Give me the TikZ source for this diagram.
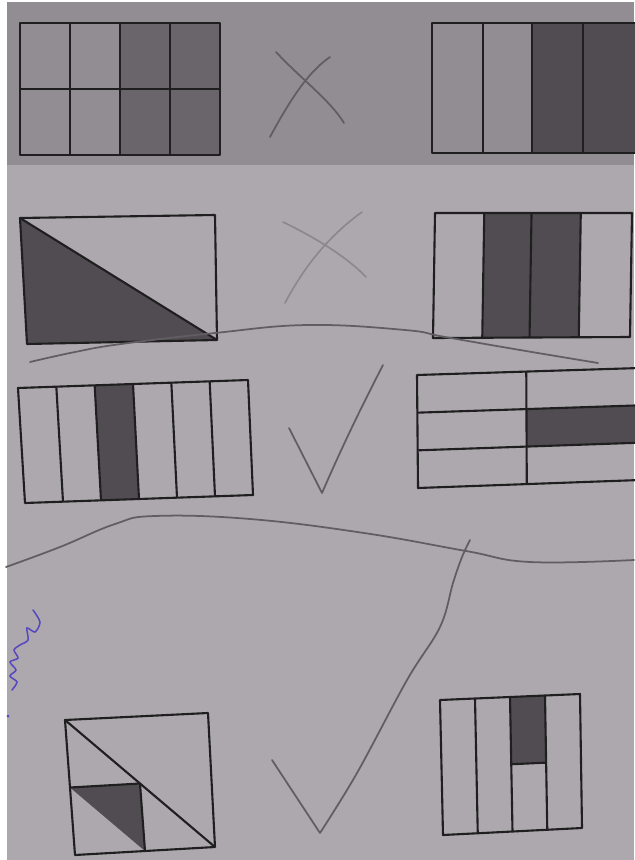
\documentclass[tikz,border=0pt]{standalone}
\usepackage{tikz}
\usetikzlibrary{calc}
\definecolor{paper}{RGB}{172,168,174}
\definecolor{paperdark}{RGB}{146,141,147}
\definecolor{midfill}{RGB}{106,101,107}
\definecolor{darkfill}{RGB}{80,76,81}
\definecolor{pencil}{RGB}{96,93,99}
\definecolor{pencilfaint}{RGB}{140,135,142}
\definecolor{ink}{RGB}{88,72,190}

\begin{document}
\begin{tikzpicture}[x=0.3mm, y=-0.3mm,
    box/.style={draw=black!88, line width=1.8pt, line join=round},
    pencilline/.style={draw=pencil, line width=1.5pt, line cap=round, line join=round},
    faintline/.style={draw=pencilfaint, line width=1.4pt, line cap=round}]
    \useasboundingbox (0,0) rectangle (634,860);

    % paper
    \fill[white] (0,0) rectangle (634,860);
    \fill[paper] (7,165) rectangle (634,860);
    \fill[paperdark] (7,2) rectangle (634,165);

    % row 1, left: 4x2 grid, right half shaded
    \coordinate (r1l-nw) at (20,23);  \coordinate (r1l-ne) at (220,23);
    \coordinate (r1l-se) at (220,155); \coordinate (r1l-sw) at (20,155);
    \fill[midfill] ($(r1l-nw)!0.5!(r1l-ne)$) rectangle (r1l-se);
    \foreach \t in {0.25,0.5,0.75}
        \draw[box] ($(r1l-nw)!\t!(r1l-ne)$) -- ($(r1l-sw)!\t!(r1l-se)$);
    \draw[box] ($(r1l-nw)!0.5!(r1l-sw)$) -- ($(r1l-ne)!0.5!(r1l-se)$);
    \draw[box] (r1l-nw) -- (r1l-ne) -- (r1l-se) -- (r1l-sw) -- cycle;

    % cross 1
    \draw[pencilline] (270,137) .. controls (290,100) and (308,72) .. (330,57);
    \draw[pencilline] (276,52) .. controls (300,78) and (330,100) .. (344,123);

    % row 1, right: 4 strips, two shaded
    \coordinate (r1r-nw) at (432,23);  \coordinate (r1r-ne) at (640,23);
    \coordinate (r1r-se) at (640,153); \coordinate (r1r-sw) at (432,153);
    \fill[darkfill] ($(r1r-nw)!0.48!(r1r-ne)$) rectangle (r1r-se);
    \foreach \t in {0.245,0.48,0.726}
        \draw[box] ($(r1r-nw)!\t!(r1r-ne)$) -- ($(r1r-sw)!\t!(r1r-se)$);
    \draw[box] (r1r-nw) -- (r1r-ne) -- (r1r-se) -- (r1r-sw) -- cycle;

    % row 2, left: half cut on the diagonal
    \coordinate (r2l-nw) at (20,218);  \coordinate (r2l-ne) at (215,215);
    \coordinate (r2l-se) at (217,340); \coordinate (r2l-sw) at (27,344);
    \fill[darkfill] (r2l-nw) -- (r2l-se) -- (r2l-sw) -- cycle;
    \draw[box] (r2l-nw) -- (r2l-se);
    \draw[box] (r2l-nw) -- (r2l-ne) -- (r2l-se) -- (r2l-sw) -- cycle;

    % cross 2 (faint)
    \draw[faintline] (283,222) .. controls (310,235) and (345,255) .. (366,277);
    \draw[faintline] (362,212) .. controls (330,235) and (305,265) .. (285,303);

    % row 2, right: 4 strips, middle two shaded
    \coordinate (r2r-nw) at (435,213); \coordinate (r2r-ne) at (632,213);
    \coordinate (r2r-se) at (630,337); \coordinate (r2r-sw) at (433,338);
    \fill[darkfill] ($(r2r-nw)!0.25!(r2r-ne)$) -- ($(r2r-nw)!0.74!(r2r-ne)$)
        -- ($(r2r-sw)!0.74!(r2r-se)$) -- ($(r2r-sw)!0.25!(r2r-se)$) -- cycle;
    \foreach \t in {0.25,0.49,0.74}
        \draw[box] ($(r2r-nw)!\t!(r2r-ne)$) -- ($(r2r-sw)!\t!(r2r-se)$);
    \draw[box] (r2r-nw) -- (r2r-ne) -- (r2r-se) -- (r2r-sw) -- cycle;

    % wavy line 1
    \draw[pencilline] plot[smooth, tension=0.7] coordinates
        {(30,362) (75,352) (121,344) (215,333) (308,325) (405,330) (445,337) (520,350) (598,363)};

    % row 3, left: 6 strips, one shaded
    \coordinate (r3l-nw) at (18,388);  \coordinate (r3l-ne) at (248,380);
    \coordinate (r3l-se) at (253,495); \coordinate (r3l-sw) at (25,503);
    \fill[darkfill] ($(r3l-nw)!2/6!(r3l-ne)$) -- ($(r3l-nw)!3/6!(r3l-ne)$)
        -- ($(r3l-sw)!3/6!(r3l-se)$) -- ($(r3l-sw)!2/6!(r3l-se)$) -- cycle;
    \foreach \i in {1,...,5}
        \draw[box] ($(r3l-nw)!\i/6!(r3l-ne)$) -- ($(r3l-sw)!\i/6!(r3l-se)$);
    \draw[box] (r3l-nw) -- (r3l-ne) -- (r3l-se) -- (r3l-sw) -- cycle;

    % tick 1
    \draw[pencilline] (289,428) -- (322,493) .. controls (345,440) and (365,400) .. (383,365);

    % row 3, right: 2x3 grid, one cell shaded
    \coordinate (r3r-nw) at (417,375); \coordinate (r3r-ne) at (640,368);
    \coordinate (r3r-se) at (640,480); \coordinate (r3r-sw) at (418,488);
    \fill[darkfill] ($($(r3r-nw)!1/3!(r3r-sw)$)!0.49!($(r3r-ne)!1/3!(r3r-se)$)$)
        -- ($(r3r-ne)!1/3!(r3r-se)$) -- ($(r3r-ne)!2/3!(r3r-se)$)
        -- ($($(r3r-nw)!2/3!(r3r-sw)$)!0.49!($(r3r-ne)!2/3!(r3r-se)$)$) -- cycle;
    \draw[box] ($(r3r-nw)!0.49!(r3r-ne)$) -- ($(r3r-sw)!0.49!(r3r-se)$);
    \foreach \t in {1/3,2/3}
        \draw[box] ($(r3r-nw)!\t!(r3r-sw)$) -- ($(r3r-ne)!\t!(r3r-se)$);
    \draw[box] (r3r-nw) -- (r3r-ne) -- (r3r-se) -- (r3r-sw) -- cycle;

    % wavy line 2
    \draw[pencilline] plot[smooth, tension=0.7] coordinates
        {(6,567) (60,547) (115,524) (155,516) (250,519) (364,533) (466,551) (530,562) (634,560)};

    % handwriting (blue)
    \draw[ink, line width=1.3pt, line cap=round] plot[smooth] coordinates
        {(33,610) (40,622) (35,632) (27,628) (28,640) (20,645) (14,650) (18,658)
         (10,662) (16,670) (10,676) (17,682) (12,690)};
    \fill[ink] (8,716) circle (1.5);

    % tick 2
    \draw[pencilline] (272,760) -- (320,833) plot[smooth, tension=0.6] coordinates
        {(320,833) (357,773) (407,680) (440,627) (453,583) (462,557) (470,540)};

    % row 4, left: square, diagonal, shaded small triangle
    \coordinate (r4l-nw) at (65,720);  \coordinate (r4l-ne) at (208,713);
    \coordinate (r4l-se) at (215,847); \coordinate (r4l-sw) at (75,855);
    \coordinate (r4l-w) at ($(r4l-nw)!0.5!(r4l-sw)$);
    \coordinate (r4l-c) at ($(r4l-nw)!0.5!(r4l-se)$);
    \coordinate (r4l-s) at ($(r4l-sw)!0.5!(r4l-se)$);
    \fill[darkfill] (r4l-w) -- (r4l-c) -- (r4l-s) -- cycle;
    \draw[box] (r4l-nw) -- (r4l-se);
    \draw[box] (r4l-w) -- (r4l-c) -- (r4l-s);
    \draw[box] (r4l-nw) -- (r4l-ne) -- (r4l-se) -- (r4l-sw) -- cycle;

    % row 4, right: 4 strips, top half of third shaded
    \coordinate (r4r-nw) at (440,700); \coordinate (r4r-ne) at (580,694);
    \coordinate (r4r-se) at (582,828); \coordinate (r4r-sw) at (443,835);
    \fill[darkfill] ($(r4r-nw)!0.5!(r4r-ne)$) -- ($(r4r-nw)!0.75!(r4r-ne)$)
        -- ($($(r4r-nw)!0.5!(r4r-sw)$)!0.75!($(r4r-ne)!0.5!(r4r-se)$)$)
        -- ($($(r4r-nw)!0.5!(r4r-sw)$)!0.5!($(r4r-ne)!0.5!(r4r-se)$)$) -- cycle;
    \foreach \t in {0.25,0.5,0.75}
        \draw[box] ($(r4r-nw)!\t!(r4r-ne)$) -- ($(r4r-sw)!\t!(r4r-se)$);
    \draw[box] ($($(r4r-nw)!0.5!(r4r-sw)$)!0.5!($(r4r-ne)!0.5!(r4r-se)$)$)
        -- ($($(r4r-nw)!0.5!(r4r-sw)$)!0.75!($(r4r-ne)!0.5!(r4r-se)$)$);
    \draw[box] (r4r-nw) -- (r4r-ne) -- (r4r-se) -- (r4r-sw) -- cycle;
\end{tikzpicture}
\end{document}
